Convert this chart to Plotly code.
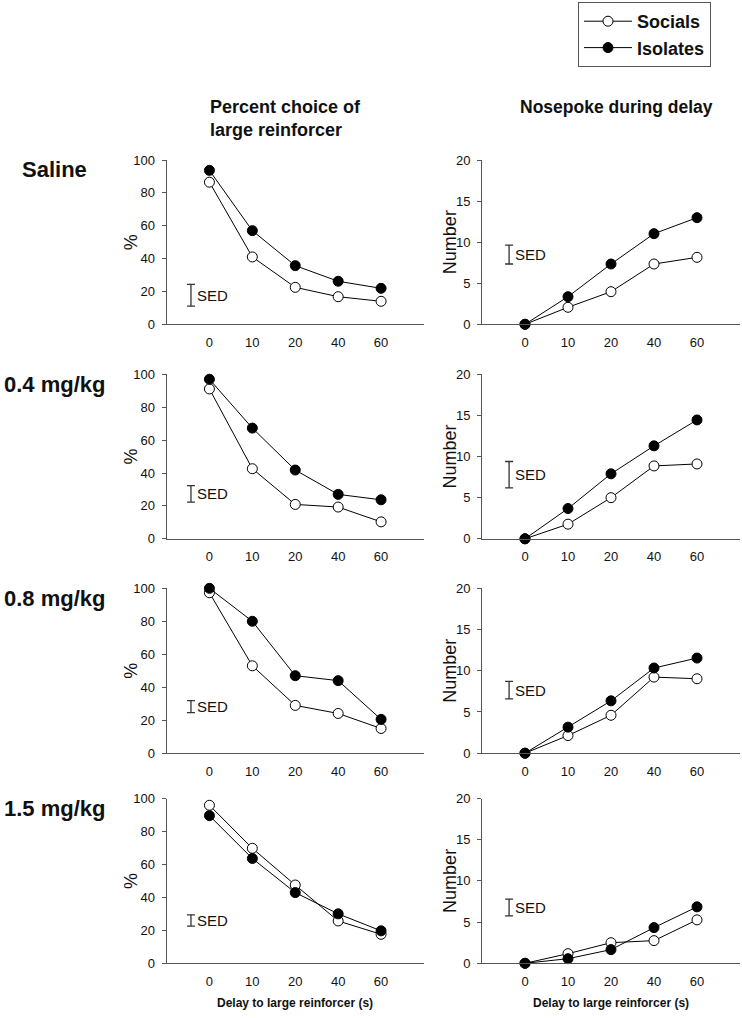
import plotly.graph_objects as go

W, H = 742, 1018

delay_labels = ["0", "10", "20", "40", "60"]
rows = ["Saline", "0.4 mg/kg", "0.8 mg/kg", "1.5 mg/kg"]

# Percent choice of large reinforcer
pct_socials = [
    [86.5, 41.0, 22.5, 16.8, 14.0],
    [91.1, 42.6, 20.9, 19.3, 10.3],
    [97.3, 53.0, 29.0, 24.1, 15.0],
    [95.9, 69.8, 47.5, 25.7, 17.6],
]
pct_isolates = [
    [93.7, 57.0, 35.7, 26.2, 21.9],
    [97.0, 67.3, 41.8, 27.0, 23.7],
    [100.0, 80.0, 47.0, 44.0, 20.5],
    [89.6, 63.6, 42.9, 30.0, 19.7],
]
# Nosepoke during delay
num_socials = [
    [0.0, 2.07, 3.97, 7.34, 8.15],
    [0.0, 1.78, 5.0, 8.86, 9.1],
    [0.0, 2.14, 4.6, 9.23, 9.03],
    [0.0, 1.17, 2.5, 2.75, 5.27],
]
num_isolates = [
    [0.0, 3.36, 7.34, 11.03, 12.98],
    [0.0, 3.68, 7.9, 11.3, 14.45],
    [0.0, 3.16, 6.35, 10.33, 11.54],
    [0.0, 0.56, 1.66, 4.33, 6.85],
]
# SED bars (low, high)
pct_sed = [(11.1, 24.3), (22.3, 32.3), (24.6, 31.9), (22.5, 29.4)]
num_sed = [(7.34, 9.65), (6.2, 9.4), (6.6, 8.7), (5.76, 7.8)]

FONT = "Liberation Sans, Arial, sans-serif"
AX = "#555555"
TXT = "#111111"

# pixel geometry (screen)
left_px = (166.5, 424)
right_px = (482, 740)
row_px = [(160, 324.3), (374.3, 538.8), (588.3, 753.2), (798.5, 963.3)]

def px2x(px):
    return px / W

def px2y(py):
    return 1 - py / H

def xd(px):
    return [px2x(px[0]), px2x(px[1])]

def yd(px):
    return [px2y(px[1]), px2y(px[0])]

fig = go.Figure()
layout = dict(
    width=W, height=H,
    margin=dict(l=0, r=0, t=0, b=0, autoexpand=False),
    plot_bgcolor="white", paper_bgcolor="white",
    font=dict(family=FONT, color=TXT, size=13),
    showlegend=True,
    legend=dict(
        x=px2x(578), y=px2y(2), xanchor="left", yanchor="top",
        bordercolor="#555", borderwidth=1, bgcolor="white",
        font=dict(size=18, family=FONT, color=TXT, weight="bold"),
        itemwidth=48, tracegroupgap=0,
    ),
)
annotations = []

xpos = list(range(len(delay_labels)))

for r in range(4):
    for c in range(2):
        idx = r * 2 + c + 1
        xa = "x" if idx == 1 else f"x{idx}"
        ya = "y" if idx == 1 else f"y{idx}"
        soc = pct_socials[r] if c == 0 else num_socials[r]
        iso = pct_isolates[r] if c == 0 else num_isolates[r]
        sed = pct_sed[r] if c == 0 else num_sed[r]
        ymax = 100 if c == 0 else 20
        dtick = 20 if c == 0 else 5
        sedx = -0.43 if c == 0 else -0.37
        first = (idx == 1)
        fig.add_trace(go.Scatter(
            x=xpos, y=soc, xaxis=xa, yaxis=ya, mode="lines+markers",
            name="Socials", showlegend=first, legendgroup="s",
            line=dict(color="black", width=1),
            marker=dict(size=10, color="white", line=dict(color="black", width=1)),
            cliponaxis=False,
        ))
        fig.add_trace(go.Scatter(
            x=xpos, y=iso, xaxis=xa, yaxis=ya, mode="lines+markers",
            name="Isolates", showlegend=first, legendgroup="i",
            line=dict(color="black", width=1),
            marker=dict(size=10, color="black", line=dict(color="black", width=1)),
            cliponaxis=False,
        ))
        mid = (sed[0] + sed[1]) / 2
        half = (sed[1] - sed[0]) / 2
        fig.add_trace(go.Scatter(
            x=[sedx], y=[mid], xaxis=xa, yaxis=ya, mode="markers",
            showlegend=False, marker=dict(size=1, color="rgba(0,0,0,0)"),
            error_y=dict(type="data", array=[half], color="#333", thickness=1.3, width=4),
            cliponaxis=False, hoverinfo="skip",
        ))
        annotations.append(dict(
            x=sedx + 0.1, y=mid, xref=xa, yref=ya, text="SED", showarrow=False,
            xanchor="left", yanchor="middle", font=dict(size=15, family=FONT, color=TXT),
        ))
        xk = "xaxis" if idx == 1 else f"xaxis{idx}"
        yk = "yaxis" if idx == 1 else f"yaxis{idx}"
        layout[xk] = dict(
            domain=xd(left_px if c == 0 else right_px), anchor=ya,
            range=[-1, 5], tickvals=xpos, ticktext=delay_labels,
            showline=True, linecolor=AX, linewidth=1, showgrid=False, zeroline=False,
            ticks="outside", ticklen=6, tickcolor="rgba(0,0,0,0)",
            tickfont=dict(size=13, family=FONT, color=TXT),
        )
        layout[yk] = dict(
            domain=yd(row_px[r]), anchor=xa,
            range=[0, ymax], dtick=dtick, tick0=0,
            showline=True, linecolor=AX, linewidth=1, showgrid=False, zeroline=False,
            ticks="outside", ticklen=4, tickcolor=AX, ticklabelstandoff=4,
            tickfont=dict(size=13, family=FONT, color=TXT),
        )
        # axis titles
        ymid = px2y((row_px[r][0] + row_px[r][1]) / 2)
        if c == 0:
            annotations.append(dict(x=px2x(131), y=ymid, xref="paper", yref="paper",
                                    text="%", textangle=-90, showarrow=False,
                                    xanchor="center", yanchor="middle",
                                    font=dict(size=18, family=FONT, color=TXT)))
        else:
            annotations.append(dict(x=px2x(450), y=ymid, xref="paper", yref="paper",
                                    text="Number", textangle=-90, showarrow=False,
                                    xanchor="center", yanchor="middle",
                                    font=dict(size=18, family=FONT, color=TXT)))

# row labels
row_label_y = [170, 385, 598, 808]
for r in range(4):
    annotations.append(dict(x=px2x(54), y=px2y(row_label_y[r]), xref="paper", yref="paper",
                            text=f"<b>{rows[r]}</b>", showarrow=False,
                            xanchor="center", yanchor="middle",
                            font=dict(size=22, family=FONT, color=TXT)))

# column titles
annotations.append(dict(x=px2x(208), y=px2y(118), xref="paper", yref="paper",
                        text="<b>Percent choice of<br>large reinforcer</b>", showarrow=False,
                        xanchor="left", yanchor="middle", align="left",
                        font=dict(size=18, family=FONT, color=TXT)))
annotations.append(dict(x=px2x(616), y=px2y(107), xref="paper", yref="paper",
                        text="<b>Nosepoke during delay</b>", showarrow=False,
                        xanchor="center", yanchor="middle",
                        font=dict(size=17.5, family=FONT, color=TXT)))
# x axis titles
for cx in (295, 611):
    annotations.append(dict(x=px2x(cx), y=px2y(1003), xref="paper", yref="paper",
                            text="<b>Delay to large reinforcer (s)</b>", showarrow=False,
                            xanchor="center", yanchor="middle",
                            font=dict(size=12, family=FONT, color=TXT)))

layout["annotations"] = annotations
fig.update_layout(**layout)
fig.write_html("out.html",
               config={"displayModeBar": False},
               post_script="document.body.style.margin='0';document.body.style.padding='0';")
